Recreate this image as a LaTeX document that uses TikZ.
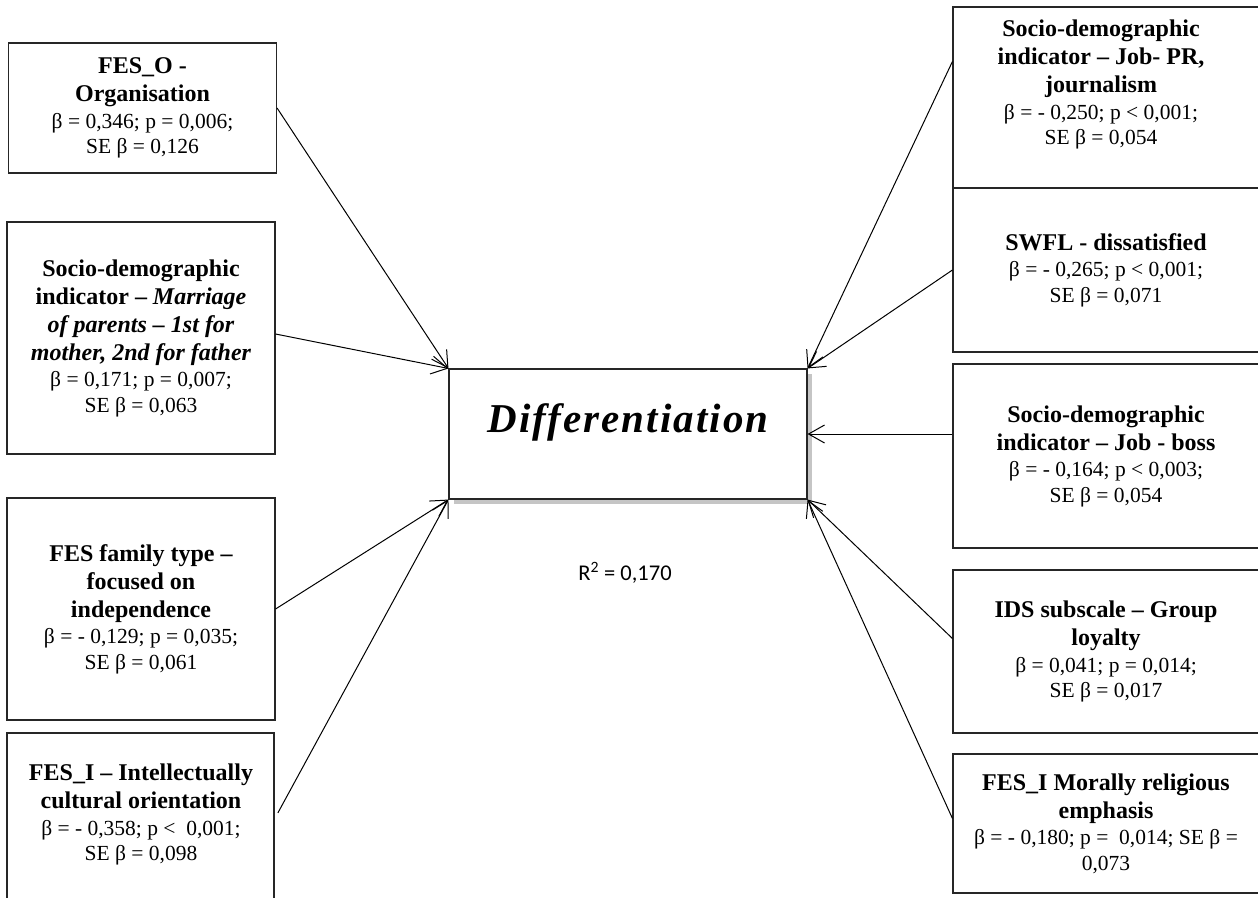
\documentclass[tikz,border=0pt]{standalone}
\usepackage{fontspec}
\setmainfont{Liberation Serif}
\newfontfamily\calib{Carlito}
\usetikzlibrary{arrows.meta,shadows}
\newcommand\hd[1]{{\fontsize{24}{25.5}\selectfont\bfseries #1}}
\begin{document}
\begin{tikzpicture}[x=1pt,y=-1pt,
  box/.style={draw=black!85, line width=1.1pt, inner sep=0pt, align=center,
    font=\fontsize{21.5}{25.5}\selectfont},
  lbox/.style={box, minimum width=268pt},
  rbox/.style={box, minimum width=306pt},
  txt/.style={inner sep=0pt, align=center, font=\fontsize{21.5}{25.5}\selectfont},
  arr/.style={line width=1pt, -{Straight Barb[length=16pt,width=18pt]}}]
\useasboundingbox (0,0) rectangle (1258,897);

% centre
\node[draw=black!85, line width=1.1pt, minimum width=358pt, minimum height=130pt,
  fill=white, drop shadow={shadow xshift=5pt,shadow yshift=-5pt,fill=black!45,opacity=.5},
  text height=28pt, text depth=32pt,
  font=\fontsize{41}{48}\selectfont\bfseries\itshape\addfontfeature{LetterSpace=5}]
  (d) at (628,434) {Differentiation};
\node[font=\calib\fontsize{22.5}{26}\selectfont, anchor=base, inner sep=0pt] (rsq) at (625,580)
  {R\textsuperscript{2} = 0,170};

% left boxes
\node[lbox, minimum height=130pt] (l1) at (142.5,108)
  {\hd{FES\_O -}\\[2.5pt] \hd{Organisation}\\[1pt] β = 0,346; p = 0,006;\\ SE β = 0,126};
\node[lbox, minimum height=232pt] (l2) at (141,338)
  {\hd{Socio-demographic}\\[2.5pt] \hd{indicator – \itshape Marriage}\\[2.5pt]
   \hd{\itshape of parents – 1st for}\\[2.5pt] \hd{\itshape mother, 2nd for father}\\[1pt]
   β = 0,171; p = 0,007;\\ SE β = 0,063};
\node[lbox, minimum height=222pt] (l3) at (141,609)
  {\hd{FES family type –}\\[2.5pt] \hd{focused on}\\[2.5pt] \hd{independence}\\[1pt]
   β = - 0,129; p = 0,035;\\ SE β = 0,061};
\node[lbox, minimum width=267pt, minimum height=172pt] (l4) at (140.5,819) {};
\node[txt, anchor=north] (l4t) at (141,764)
  {\hd{FES\_I – Intellectually}\\[2.5pt] \hd{cultural orientation}\\[1pt]
   β = - 0,358; p <~ 0,001;\\ SE β = 0,098};

% right boxes
\node[rbox, minimum height=181pt] (r1) at (1106,97.5) {};
\node[txt, anchor=north] (r1t) at (1101,20)
  {\hd{Socio-demographic}\\[2.5pt] \hd{indicator – Job- PR,}\\[2.5pt] \hd{journalism}\\[1pt]
   β = - 0,250; p < 0,001;\\ SE β = 0,054};
\node[rbox, minimum height=164pt] (r2) at (1106,270)
  {\hd{SWFL - dissatisfied}\\[1pt] β = - 0,265; p < 0,001;\\ SE β = 0,071};
\node[rbox, minimum height=184pt] (r3) at (1106,456)
  {\hd{Socio-demographic}\\[2.5pt] \hd{indicator – Job - boss}\\[1pt]
   β = - 0,164; p < 0,003;\\ SE β = 0,054};
\node[rbox, minimum height=163pt] (r4) at (1106,651.5)
  {\hd{IDS subscale – Group}\\[2.5pt] \hd{loyalty}\\[1pt] β = 0,041; p = 0,014;\\ SE β = 0,017};
\node[rbox, minimum height=139pt] (r5) at (1106,823.5)
  {\hd{FES\_I Morally religious}\\[2.5pt] \hd{emphasis}\\[1pt]
   β = - 0,180; p =~ 0,014; SE β =\\ 0,073};

% connectors
\draw[arr] (l1.east) -- (d.north west);
\draw[arr] ([yshift=4pt]l2.east) -- (d.north west);
\draw[arr] (l3.east) -- (d.south west);
\draw[arr, shorten <=7pt] (l4.east) -- (d.south west);
\draw[arr] ([yshift=-55pt]r1.north west) -- (d.north east);
\draw[arr] (r2.west) -- (d.north east);
\draw[arr] (r3.west |- d.east) -- (d.east);
\draw[arr] ([yshift=13pt]r4.west) -- (d.south east);
\draw[arr] ([yshift=5pt]r5.west) -- (d.south east);
\end{tikzpicture}
\end{document}
